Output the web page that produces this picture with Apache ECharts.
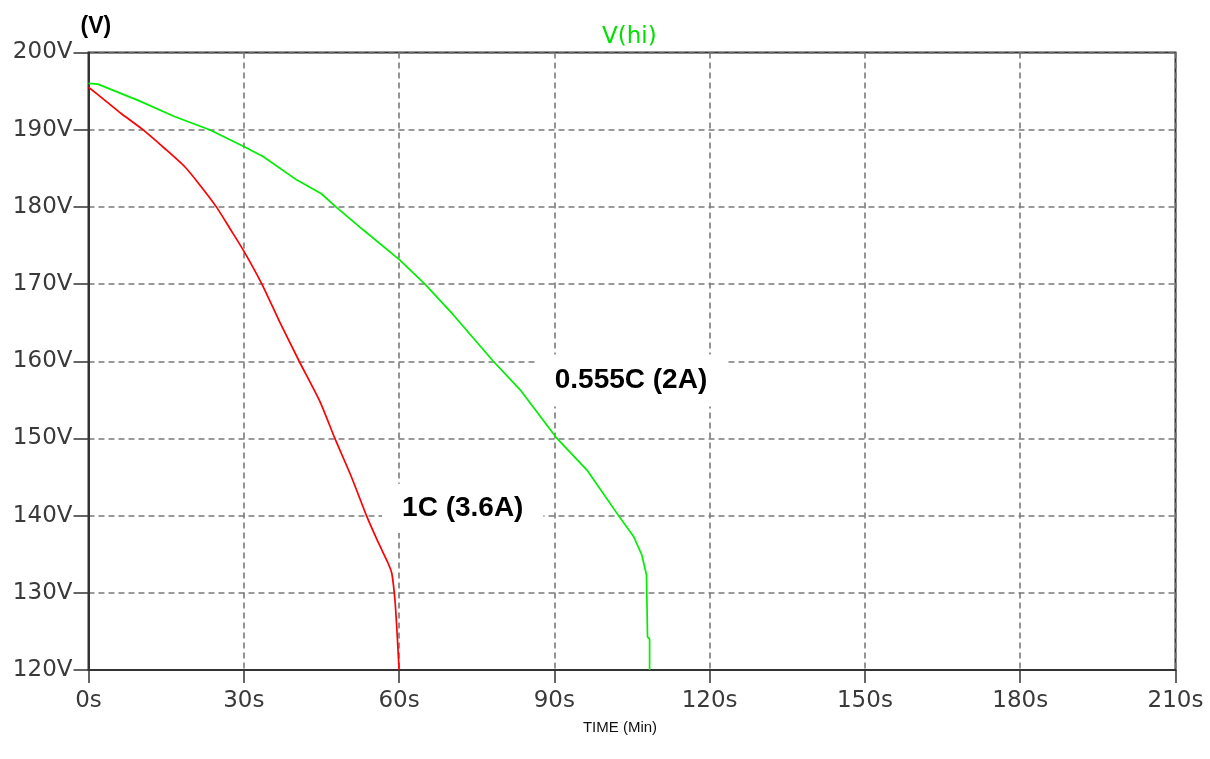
<!DOCTYPE html>
<html>
<head>
<meta charset="utf-8">
<script src="https://cdn.jsdelivr.net/npm/echarts@6/dist/echarts.min.js"></script>
<style>
html,body{margin:0;padding:0;background:#fff;}
#chart{width:1210px;height:759px;}
</style>
</head>
<body>
<div id="chart"></div>
<script>
// Time (s) and voltage (V) for the 1C (3.6A) discharge (red)
const redTime = [0, 3.0, 6.3, 10.5, 15.0, 18.6, 21.2, 24.7, 27.5, 29.9, 33.5, 37.0, 40.7, 44.7, 47.6, 50.8, 53.7, 56.0, 57.9, 58.6, 59.2, 59.6, 60.0];
const redVolt = [195.5, 193.9, 192.1, 190.0, 187.4, 185.2, 183.1, 180.0, 177.0, 174.4, 170.0, 165.0, 160.0, 154.8, 150.0, 145.0, 140.0, 136.5, 133.8, 132.5, 129.1, 125.0, 120.0];
// Time (s) and voltage (V) for the 0.555C (2A) discharge (green)
const greenTime = [0, 1.8, 9.6, 16.6, 23.4, 30.1, 33.8, 40.2, 45.0, 47.8, 53.1, 60.0, 65.0, 70.5, 78.2, 83.4, 90.5, 96.3, 102.4, 105.3, 106.9, 107.8, 108.0, 108.4, 108.4];
const greenVolt = [196.0, 195.9, 193.8, 191.7, 190.0, 187.8, 186.5, 183.5, 181.7, 180.0, 177.0, 173.2, 170.0, 166.0, 160.0, 156.3, 150.0, 145.9, 140.0, 137.3, 134.9, 132.3, 124.3, 124.0, 120.0];
// Annotations
const annoText = ['0.555C (2A)', '1C (3.6A)'];
const annoTime = [104.8, 72.3];
const annoVolt = [157.5, 140.95];
// Axis
const xTicks = [0, 30, 60, 90, 120, 150, 180, 210];
const yTicks = [120, 130, 140, 150, 160, 170, 180, 190, 200];

const zip = (a, b) => a.map((v, i) => [v, b[i]]);
const tickFont = {fontFamily: 'DejaVu Sans', fontSize: 23, color: '#3a3a3a'};
const annoPad = [[15, 18, 9, 18], [12, 20, 9, 20]];

const chart = echarts.init(document.getElementById('chart'), null, {renderer: 'canvas'});
chart.setOption({
  animation: false,
  backgroundColor: '#fff',
  legend: {
    data: ['V(hi)'],
    icon: 'none',
    itemWidth: 0,
    itemGap: 0,
    left: 592,
    top: 21,
    textStyle: {fontFamily: 'DejaVu Sans', fontSize: 23, color: '#00e000'},
    selectedMode: false
  },
  grid: {
    left: 88.5, right: 34.5, top: 52.5, bottom: 89,
    show: true, borderColor: '#333', borderWidth: 2, backgroundColor: 'transparent'
  },
  xAxis: {
    type: 'value',
    min: xTicks[0], max: xTicks[xTicks.length - 1], interval: 30,
    name: 'TIME (Min)',
    nameLocation: 'middle',
    nameGap: 50,
    nameTextStyle: {fontFamily: 'Liberation Sans', fontSize: 15, color: '#111', padding: [0, 24, 0, 0]},
    axisLine: {show: true, lineStyle: {color: '#333', width: 2}},
    axisTick: {show: true, length: 13, lineStyle: {color: '#333', width: 1.5}},
    axisLabel: Object.assign({formatter: '{value}s', margin: 20}, tickFont),
    splitLine: {show: true, lineStyle: {color: '#7a7a7a', width: 1.6, type: [6, 4]}}
  },
  yAxis: {
    type: 'value',
    min: yTicks[0], max: yTicks[yTicks.length - 1], interval: 10,
    name: '(V)',
    nameLocation: 'end',
    nameGap: 14,
    nameTextStyle: {fontFamily: 'Liberation Sans', fontSize: 23, fontWeight: 'bold', color: '#000', align: 'left', padding: [0, 0, 0, -8]},
    axisLine: {show: true, lineStyle: {color: '#333', width: 2}},
    axisTick: {show: true, length: 15, lineStyle: {color: '#333', width: 1.5}},
    axisLabel: Object.assign({formatter: '{value}V', margin: 16}, tickFont),
    splitLine: {show: true, lineStyle: {color: '#7a7a7a', width: 1.6, type: [6, 4]}}
  },
  series: [
    {
      name: '1C (3.6A)',
      type: 'line',
      data: zip(redTime, redVolt),
      showSymbol: false,
      symbol: 'none',
      smooth: 0.2,
      lineStyle: {color: '#ff0000', width: 1.7},
      itemStyle: {color: '#ff0000'},
      z: 3
    },
    {
      name: 'V(hi)',
      type: 'line',
      data: zip(greenTime, greenVolt),
      showSymbol: false,
      symbol: 'none',
      lineStyle: {color: '#00ee00', width: 1.7},
      itemStyle: {color: '#00ee00'},
      z: 3,
      markPoint: {
        symbol: 'rect',
        symbolSize: 0,
        silent: true,
        data: annoText.map((t, i) => ({
          coord: [annoTime[i], annoVolt[i]],
          value: t,
          label: {padding: annoPad[i]}
        })),
        label: {
          show: true,
          position: 'inside',
          formatter: p => p.value,
          fontFamily: 'Liberation Sans',
          fontSize: 28,
          fontWeight: 'bold',
          color: '#000',
          backgroundColor: '#fff'
        }
      }
    }
  ]
});
</script>
</body>
</html>
